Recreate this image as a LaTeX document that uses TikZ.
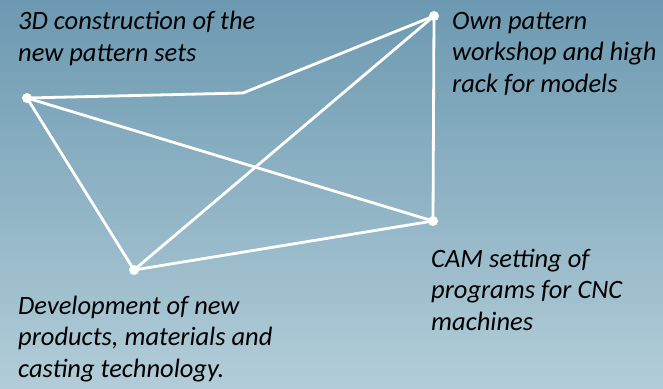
\documentclass[tikz,border=0pt]{standalone}
\usepackage{fontspec}
\setmainfont{Carlito}
\definecolor{bgtop}{RGB}{108,153,177}
\definecolor{bgbot}{RGB}{178,205,216}
\tikzset{
  dot/.style={circle,fill=white,inner sep=0pt,minimum size=10pt},
  link/.style={white,line width=2.8pt},
  lbl/.style={anchor=base west,align=left,inner sep=0pt,
    font=\fontsize{26.5}{31.5}\selectfont\itshape,text=black}
}
\begin{document}
\begin{tikzpicture}[x=1pt,y=-1pt]
\shade[top color=bgtop,bottom color=bgbot] (0,0) rectangle (663,388);
\useasboundingbox (0,0) rectangle (663,388);
\node[dot] (a) at (27,98) {};
\node[dot] (b) at (434,16) {};
\node[dot] (c) at (433,221) {};
\node[dot] (d) at (134,270) {};
\coordinate (k) at (243,93);
\draw[link] (a.center) -- (k) -- (b.center);
\draw[link] (a.center) -- (c.center);
\draw[link] (a.center) -- (d.center);
\draw[link] (d.center) -- (b.center);
\draw[link] (d.center) -- (c.center);
\draw[link] (b.center) -- (c.center);
\node[lbl] (ta) at (18,61) {3D construction of the\\new pattern sets};
\node[lbl] (tb) at (452,92) {Own pattern\\workshop and high\\rack for models};
\node[lbl] (tc) at (431,330) {CAM setting of\\programs for CNC\\machines};
\node[lbl] (td) at (18,377) {Development of new\\products, materials and\\casting technology.};
\end{tikzpicture}
\end{document}
